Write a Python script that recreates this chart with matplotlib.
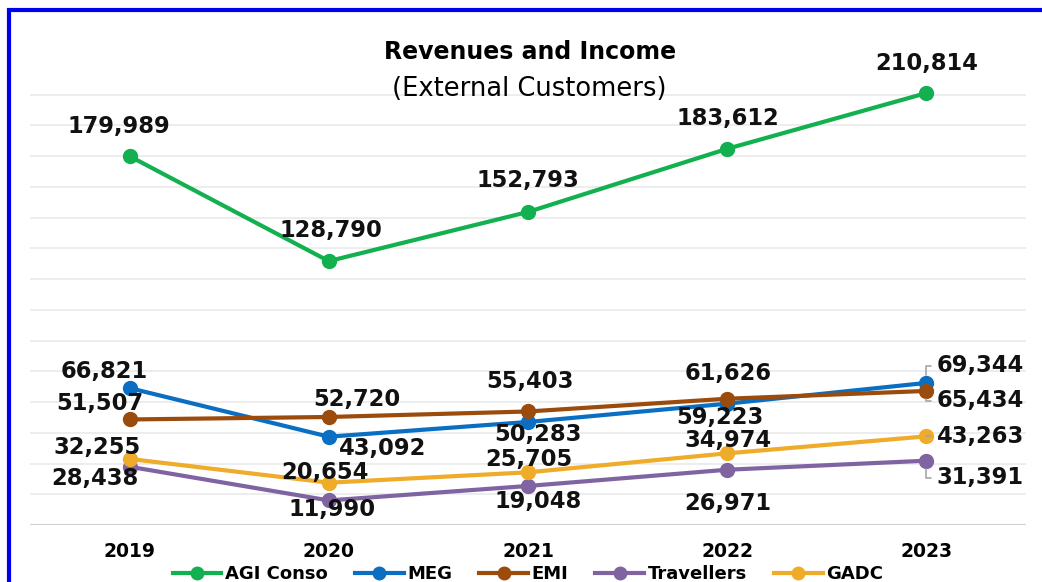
import numpy as np
import matplotlib.pyplot as plt
from matplotlib.patches import Rectangle
from matplotlib.lines import Line2D

years = ['2019', '2020', '2021', '2022', '2023']
series_names = ['AGI Conso', 'MEG', 'EMI', 'Travellers', 'GADC']
agi = [179989, 128790, 152793, 183612, 210814]
meg = [66821, 43092, 50283, 59223, 69344]
emi = [51507, 52720, 55403, 61626, 65434]
trav = [28438, 11990, 19048, 26971, 31391]
gadc = [32255, 20654, 25705, 34974, 43263]

colors = ['#12B04F', '#0A6FC2', '#9B4B0C', '#8064A2', '#EFAB2A']

# label offsets in pixels (dx, dy) for each point
offsets = {
    'AGI Conso': [(-11, 30), (2, 31), (0, 31), (1, 30), (0, 30)],
    'MEG': [(-25, 17), (54, -12), (10, -13), (-7, -14), (54, 17)],
    'EMI': [(-30, 16), (28, 17), (2, 30), (1, 25), (54, -10)],
    'Travellers': [(-35, -12), (3, -9), (10, -16), (1, -34), (54, -17)],
    'GADC': [(-33, 11), (-4, 10), (1, 13), (1, 13), (54, 0)],
}

fig = plt.figure(figsize=(10.42, 5.82), dpi=100)
ax = fig.add_axes([30 / 1042, 57 / 582, 996 / 1042, 461 / 582])
ax.set_xlim(-0.5, 4.5)
ax.set_ylim(0, 225000)
ax.set_yticks(np.arange(0, 210001, 15000))
ax.yaxis.grid(True, color='#ececec', lw=1.3)
ax.axhline(0, color='#d0d0d0', lw=1.5)
ax.set_axisbelow(True)
for s in ax.spines.values():
    s.set_visible(False)
ax.tick_params(left=False, bottom=False, labelleft=False)
x = np.arange(len(years))
ax.set_xticks(x)
ax.set_xticklabels(years, fontsize=13.5, fontweight='bold')
ax.tick_params(axis='x', pad=9)

data = [agi, meg, emi, trav, gadc]
handles = []
for name, vals, c in zip(series_names, data, colors):
    ax.plot(x, vals, color=c, lw=3, marker='o', ms=10, clip_on=False, zorder=3)
    handles.append(Line2D([], [], color=c, lw=3, marker='o', ms=9))
    for i, v in enumerate(vals):
        dx, dy = offsets[name][i]
        kw = {}
        if i == 4 and name != 'AGI Conso':
            kw['arrowprops'] = dict(arrowstyle='-', color='#a6a6a6', lw=1.2,
                                    shrinkA=2, shrinkB=6, relpos=(0, 0.5),
                                    connectionstyle='angle,angleA=0,angleB=90,rad=0')
        ax.annotate(f'{v:,}', (x[i], v), xytext=(dx, dy), textcoords='offset pixels',
                    ha='center', va='center', fontsize=16.3, fontweight='bold',
                    color='#111111', **kw)

fig.legend(handles, series_names, loc='center', bbox_to_anchor=(528 / 1042, 1 - 574 / 582),
           ncol=5, frameon=False, handlelength=2.7, columnspacing=1.5, handletextpad=0.2,
           prop={'weight': 'bold', 'size': 13})

fig.text(530 / 1042, 1 - 52 / 582, 'Revenues and Income', ha='center', va='center',
         fontsize=17, fontweight='bold')
fig.text(529 / 1042, 1 - 89 / 582, '(External Customers)', ha='center', va='center',
         fontsize=18.5)

fig.patches.append(Rectangle((9 / 1042, -0.1), 1.2, 1.1 - 10 / 582, transform=fig.transFigure,
                             fill=False, edgecolor='#0000F0', lw=3))

fig.savefig('out.png', dpi=100)
